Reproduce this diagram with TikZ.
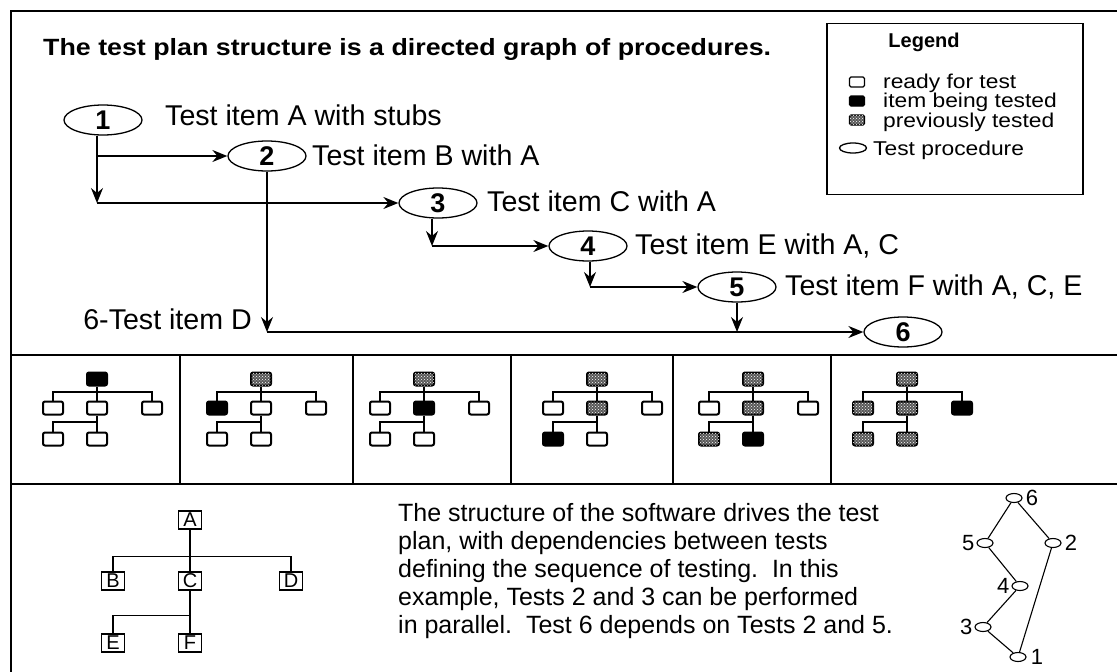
\documentclass[tikz,border=0pt]{standalone}
\usepackage{fontspec}
\setmainfont{Liberation Sans}
\newfontfamily\widesans{Liberation Sans}[FakeStretch=1.14]
\usetikzlibrary{arrows.meta,patterns,shapes.geometric}
\tikzset{
  frame/.style={line width=1.3pt},
  proc/.style={ellipse, draw, line width=1.3pt, minimum width=78pt, minimum height=30pt, inner sep=0pt,
    font=\fontsize{27}{27}\selectfont\bfseries},
  itemtext/.style={anchor=base west, inner sep=0pt, font=\fontsize{28.6}{30}\selectfont},
  arr/.style={line width=1.3pt, -{Stealth[length=15pt,width=12pt,inset=5pt]}},
  tb/.style={draw, line width=2pt, rounded corners=2pt, minimum width=20pt, minimum height=13pt, inner sep=0pt},
  tbw/.style={tb, fill=white},
  tbk/.style={tb, fill=black},
  tbd/.style={tb, fill=black!65, postaction={pattern=crosshatch dots, pattern color=white}},
  tl/.style={line width=2pt},
  lgtext/.style={anchor=base west, inner sep=0pt, font=\widesans\fontsize{20}{21}\selectfont},
  lgicon/.style={draw, line width=1.3pt, rounded corners=1.5pt, minimum width=15pt, minimum height=10pt, inner sep=0pt},
  lb/.style={draw, line width=1.4pt, minimum width=23pt, minimum height=18pt, inner sep=0pt,
    font=\fontsize{20}{20}\selectfont},
  sg/.style={ellipse, draw, line width=1.1pt, minimum width=16pt, minimum height=9pt, inner sep=0pt},
  sgl/.style={inner sep=0pt, font=\fontsize{22}{22}\selectfont}
}
\newcommand{\testtree}[8]{%
  \node[#3] (#1t) at (#2,379) {};
  \node[#4] (#1l) at ({#2-44},408) {};
  \node[#5] (#1c) at (#2,408) {};
  \node[#6] (#1r) at ({#2+55},408) {};
  \node[#7] (#1bl) at ({#2-44},439) {};
  \node[#8] (#1bc) at (#2,439) {};
  \draw[tl] (#1t.south) -- (#1c.north);
  \draw[tl] (#1l.north) -- ++(0,-8.5) -| (#1r.north);
  \draw[tl] (#1c.south) -- (#1bc.north);
  \draw[tl] (#1bl.north) -- ++(0,-9.5) -| (#1c.south);
}
\begin{document}
\begin{tikzpicture}[x=1pt,y=-1pt]
\useasboundingbox (0,0) rectangle (1117,672);
% frame and separators
\draw[frame] (1117,11) -- (11,11) -- (11,672);
\draw[frame] (11,355) -- (1117,355);
\draw[frame] (11,484) -- (1117,484);
\foreach \dx in {180,353,511,673,831} \draw[frame] (\dx,355) -- (\dx,484);

% title
\node[anchor=base west, inner sep=0pt, font=\widesans\fontsize{23.5}{25}\selectfont\bfseries] (title) at (43,55)
  {The test plan structure is a directed graph of procedures.};

% legend
\node[draw, line width=1.3pt, minimum width=256pt, minimum height=171pt, inner sep=0pt] (legend) at (955,109) {};
\node[inner sep=0pt, font=\fontsize{20}{20}\selectfont\bfseries] (lgtitle) at (924,42) {Legend};
\node[lgicon, fill=white] (lg1) at (857,82) {};
\node[lgicon, fill=black] (lg2) at (857,101) {};
\node[lgicon, fill=black!65, postaction={pattern=crosshatch dots, pattern color=white}] (lg3) at (857,120) {};
\node[ellipse, draw, line width=1.3pt, minimum width=27pt, minimum height=10pt, inner sep=0pt] (lg4) at (853,148) {};
\node[lgtext] (lt1) at (883,88) {ready for test};
\node[lgtext] (lt2) at (883,107.5) {item being tested};
\node[lgtext] (lt3) at (883,127) {previously tested};
\node[lgtext] (lt4) at (873,155) {Test procedure};

% procedures
\node[proc] (n1) at (103,120) {1};
\node[proc] (n2) at (267,156) {2};
\node[proc] (n3) at (438,203) {3};
\node[proc] (n4) at (588,246) {4};
\node[proc] (n5) at (737,287) {5};
\node[proc] (n6) at (903,332) {6};

\node[itemtext] (t1) at (165,125) {Test item A with stubs};
\node[itemtext] (t2) at (312,165) {Test item B with A};
\node[itemtext] (t3) at (487,211) {Test item C with A};
\node[itemtext] (t4) at (635,254) {Test item E with A, C};
\node[itemtext] (t5) at (785,295) {Test item F with A, C, E};
\node[anchor=base east, inner sep=0pt, font=\fontsize{28.6}{30}\selectfont] (t6) at (252,329) {6-Test item D};

% connectors
\coordinate (c12) at (97,156);
\coordinate (c13) at (97,203);
\coordinate (c34) at (432,246);
\coordinate (c45) at (590,287);
\coordinate (cD) at (267,332);
\coordinate (c56) at (737,332);
\draw[arr] (n1.south -| c13) -- (c13);
\draw[arr] (c12) -- (n2.west);
\draw[arr] (c13) -- (n3.west);
\draw[arr] (n2.south) -- (cD);
\draw[arr] (cD) -- (n6.west);
\draw[arr] (n3.south -| c34) -- (c34);
\draw[arr] (c34) -- (n4.west);
\draw[arr] (n4.south -| c45) -- (c45);
\draw[arr] (c45) -- (n5.west);
\draw[arr] (n5.south) -- (c56);

% tree row
\testtree{a}{97}{tbk}{tbw}{tbw}{tbw}{tbw}{tbw}
\testtree{b}{261}{tbd}{tbk}{tbw}{tbw}{tbw}{tbw}
\testtree{c}{424}{tbd}{tbw}{tbk}{tbw}{tbw}{tbw}
\testtree{d}{597}{tbd}{tbw}{tbd}{tbw}{tbk}{tbw}
\testtree{e}{753}{tbd}{tbw}{tbd}{tbw}{tbd}{tbk}
\testtree{f}{907}{tbd}{tbd}{tbd}{tbk}{tbd}{tbd}

% software structure
\node[lb] (A) at (190,520) {A};
\node[lb] (B) at (113,581) {B};
\node[lb] (C) at (190,581) {C};
\node[lb] (D) at (291,581) {D};
\node[lb] (E) at (113,643) {E};
\node[lb] (F) at (190,643) {F};
\draw[line width=1.4pt] (A.south) -- (C.north);
\draw[line width=1.4pt] (B.north) -- ++(0,-15) -| (D.north);
\draw[line width=1.4pt] (C.south) -- (F.north);
\draw[line width=1.4pt] (E.north) -- ++(0,-18) -| (C.south);

% paragraph
\node[anchor=north west, align=left, inner sep=0pt, font=\fontsize{25}{28}\selectfont] (para) at (398,503)
 {The structure of the software drives the test\\
  plan, with dependencies between tests\\
  defining the sequence of testing.\ \ In this\\
  example, Tests 2 and 3 can be performed\\
  in parallel.\ \ Test 6 depends on Tests 2 and 5.};

% small dependency graph
\node[sg] (g6) at (1014,498) {};
\node[sg] (g5) at (985,543) {};
\node[sg] (g2) at (1053,543) {};
\node[sg] (g4) at (1020,586) {};
\node[sg] (g3) at (983,627) {};
\node[sg] (g1) at (1018,657) {};
\draw[line width=1.1pt] (g6) -- (g5) (g6) -- (g2) (g5) -- (g4) (g4) -- (g3) (g3) -- (g1) (g2) -- (g1);
\node[sgl, anchor=west] (l6) at ([xshift=3pt]g6.east) {6};
\node[sgl, anchor=east] (l5) at ([xshift=-2pt]g5.west) {5};
\node[sgl, anchor=west] (l2) at ([xshift=3pt]g2.east) {2};
\node[sgl, anchor=east] (l4) at ([xshift=-2pt]g4.west) {4};
\node[sgl, anchor=east] (l3) at ([xshift=-2pt]g3.west) {3};
\node[sgl, anchor=west] (l1) at ([xshift=4pt]g1.east) {1};
\end{tikzpicture}
\end{document}
